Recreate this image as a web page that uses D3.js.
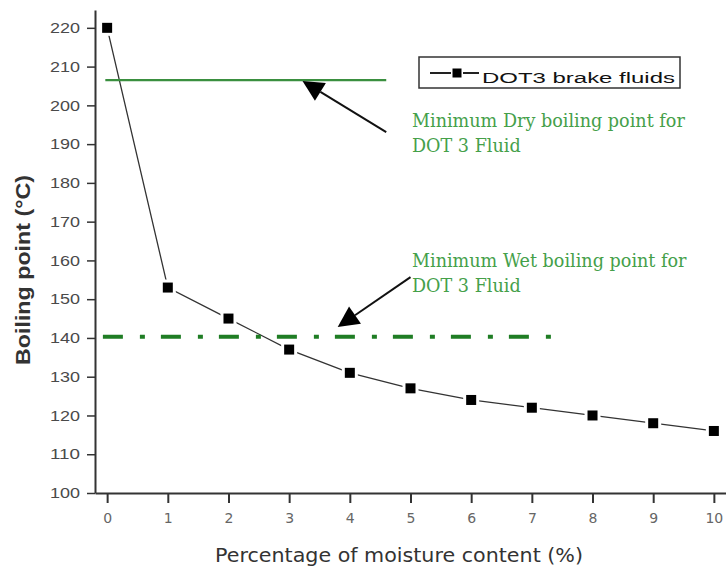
<!DOCTYPE html>
<html>
<head>
<meta charset="utf-8">
<script src="https://cdn.jsdelivr.net/npm/d3@7"></script>
<style>
  body { margin: 0; background: #fff; }
</style>
</head>
<body>
<div id="chart"></div>
<script>
//Données
const moisture = [0, 1, 2, 3, 4, 5, 6, 7, 8, 9, 10];
const boiling = [220, 153, 145, 137, 131, 127, 124, 122, 120, 118, 116];
const xTicks = [0, 1, 2, 3, 4, 5, 6, 7, 8, 9, 10];
const yTicks = [100, 110, 120, 130, 140, 150, 160, 170, 180, 190, 200, 210, 220];
const seriesName = "DOT3 brake fluids";

//------Seuils DOT 3 : [valeur, début x, fin x]
const dryLimit = [206.5, -0.03, 4.6];
const wetLimit = [140.3, -0.07, 7.42];

//------Flèches : [x départ, y départ, x pointe, y pointe]
const dryArrow = [4.6, 193.1, 3.22, 206.3];
const wetArrow = [5.0, 155.7, 3.8, 142.8];

//------Textes des annotations
const dryText = ["Minimum Dry boiling point for", "DOT 3 Fluid"];
const wetText = ["Minimum Wet boiling point for", "DOT 3 Fluid"];

//Création du svg
const W = 726, H = 569;
const svg = d3
  .select("#chart")
  .append("svg")
  .attr("width", W)
  .attr("height", H);

//------Échelles
const xScale = d3
  .scaleLinear()
  .domain([-0.2, 10.2])
  .range([95, 726]);

const yScale = d3
  .scaleLinear()
  .domain([100, 224.6])
  .range([493, 10]);

//------Axe y
const yAxis = svg
  .append("g")
  .attr("transform", `translate(${xScale(-0.2)},0)`)
  .call(d3.axisLeft(yScale).tickValues(yTicks).tickSize(8).tickSizeOuter(0).tickPadding(7));

yAxis.select(".domain").attr("stroke", "#333").attr("stroke-width", 2);
yAxis.selectAll(".tick line").attr("stroke", "#333").attr("stroke-width", 1.5);
yAxis.selectAll(".tick text")
  .attr("fill", "#4a4a4a")
  .style("font-family", "Arial, 'Liberation Sans', sans-serif")
  .style("font-size", "14.5px")
  .attr("textLength", 30)
  .attr("lengthAdjust", "spacingAndGlyphs");

//------Axe x
const xAxis = svg
  .append("g")
  .attr("transform", `translate(0,${yScale(100)})`)
  .call(d3.axisBottom(xScale).tickValues(xTicks).tickSize(10).tickSizeOuter(0).tickPadding(10));

xAxis.select(".domain").attr("stroke", "#333").attr("stroke-width", 2);
xAxis.selectAll(".tick line").attr("stroke", "#333").attr("stroke-width", 2);
xAxis.selectAll(".tick text")
  .attr("fill", "#666")
  .style("font-family", "'DejaVu Sans', sans-serif")
  .style("font-size", "14px");

//------Titres des axes
svg.append("text")
  .attr("transform", `translate(30,270) rotate(-90)`)
  .attr("text-anchor", "middle")
  .attr("fill", "#333")
  .style("font-family", "Arial, 'Liberation Sans', sans-serif")
  .style("font-weight", "bold")
  .style("font-size", "20px")
  .attr("textLength", 190)
  .attr("lengthAdjust", "spacingAndGlyphs")
  .text("Boiling point (°C)");

svg.append("text")
  .attr("x", 215)
  .attr("y", 562)
  .attr("fill", "#333")
  .style("font-family", "'DejaVu Sans', sans-serif")
  .style("font-size", "19px")
  .attr("textLength", 368)
  .attr("lengthAdjust", "spacingAndGlyphs")
  .text("Percentage of moisture content (%)");

//------Courbe
const data = moisture.map((m, i) => ({ x: m, y: boiling[i] }));

const line = d3.line()
  .x(d => xScale(d.x))
  .y(d => yScale(d.y));

svg.append("path")
  .datum(data)
  .attr("fill", "none")
  .attr("stroke", "#333")
  .attr("stroke-width", 1.3)
  .attr("d", line);

//------Marqueurs (fond blanc pour l'espace autour du carré)
svg.selectAll(".gap")
  .data(data)
  .enter()
  .append("rect")
  .attr("class", "gap")
  .attr("x", d => xScale(d.x) - 8)
  .attr("y", d => yScale(d.y) - 8)
  .attr("width", 16)
  .attr("height", 16)
  .attr("fill", "#fff");

svg.selectAll(".pt")
  .data(data)
  .enter()
  .append("rect")
  .attr("class", "pt")
  .attr("x", d => xScale(d.x) - 5)
  .attr("y", d => yScale(d.y) - 5)
  .attr("width", 10)
  .attr("height", 10)
  .attr("fill", "#000");

//------Seuils
svg.append("line")
  .attr("x1", xScale(dryLimit[1]))
  .attr("x2", xScale(dryLimit[2]))
  .attr("y1", yScale(dryLimit[0]))
  .attr("y2", yScale(dryLimit[0]))
  .attr("stroke", "#3a8f3f")
  .attr("stroke-width", 2.2);

svg.append("line")
  .attr("x1", xScale(wetLimit[1]))
  .attr("x2", xScale(wetLimit[2]))
  .attr("y1", yScale(wetLimit[0]))
  .attr("y2", yScale(wetLimit[0]))
  .attr("stroke", "#1f7d24")
  .attr("stroke-width", 4)
  .attr("stroke-dasharray", "20,17,5,16");

//------Flèches
function arrow(a) {
  const x0 = xScale(a[0]), y0 = yScale(a[1]);
  const x1 = xScale(a[2]), y1 = yScale(a[3]);
  const len = Math.hypot(x1 - x0, y1 - y0);
  const ux = (x1 - x0) / len, uy = (y1 - y0) / len;
  const hl = 21, hw = 10.5;
  const bx = x1 - ux * hl, by = y1 - uy * hl;
  svg.append("line")
    .attr("x1", x0).attr("y1", y0)
    .attr("x2", bx).attr("y2", by)
    .attr("stroke", "#111")
    .attr("stroke-width", 2);
  svg.append("polygon")
    .attr("points", [
      [x1, y1],
      [bx - uy * hw, by + ux * hw],
      [bx + uy * hw, by - ux * hw]
    ].map(p => p.join(",")).join(" "))
    .attr("fill", "#000");
}
arrow(dryArrow);
arrow(wetArrow);

//------Textes verts
function note(lines, x, y) {
  svg.selectAll(null)
    .data(lines)
    .enter()
    .append("text")
    .attr("x", x)
    .attr("y", (d, i) => y + i * 25)
    .attr("fill", "#45a04a")
    .style("font-family", "'DejaVu Serif', serif")
    .style("font-size", "17.6px")
    .text(d => d);
}
note(dryText, 412, 127);
note(wetText, 412, 267);

//------Légende
const leg = svg.append("g");
leg.append("rect")
  .attr("x", 419).attr("y", 57)
  .attr("width", 261).attr("height", 31)
  .attr("fill", "#fff")
  .attr("stroke", "#333")
  .attr("stroke-width", 1.5);
leg.append("line")
  .attr("x1", 430).attr("x2", 451).attr("y1", 73).attr("y2", 73)
  .attr("stroke", "#222").attr("stroke-width", 2);
leg.append("line")
  .attr("x1", 463).attr("x2", 479).attr("y1", 73).attr("y2", 73)
  .attr("stroke", "#222").attr("stroke-width", 2);
leg.append("rect")
  .attr("x", 452.5).attr("y", 68.5)
  .attr("width", 9).attr("height", 9)
  .attr("fill", "#000");
leg.append("text")
  .attr("x", 482).attr("y", 83)
  .attr("fill", "#111")
  .style("font-family", "Arial, 'Liberation Sans', sans-serif")
  .style("font-size", "15.5px")
  .attr("textLength", 193)
  .attr("lengthAdjust", "spacingAndGlyphs")
  .text(seriesName);
</script>
</body>
</html>
